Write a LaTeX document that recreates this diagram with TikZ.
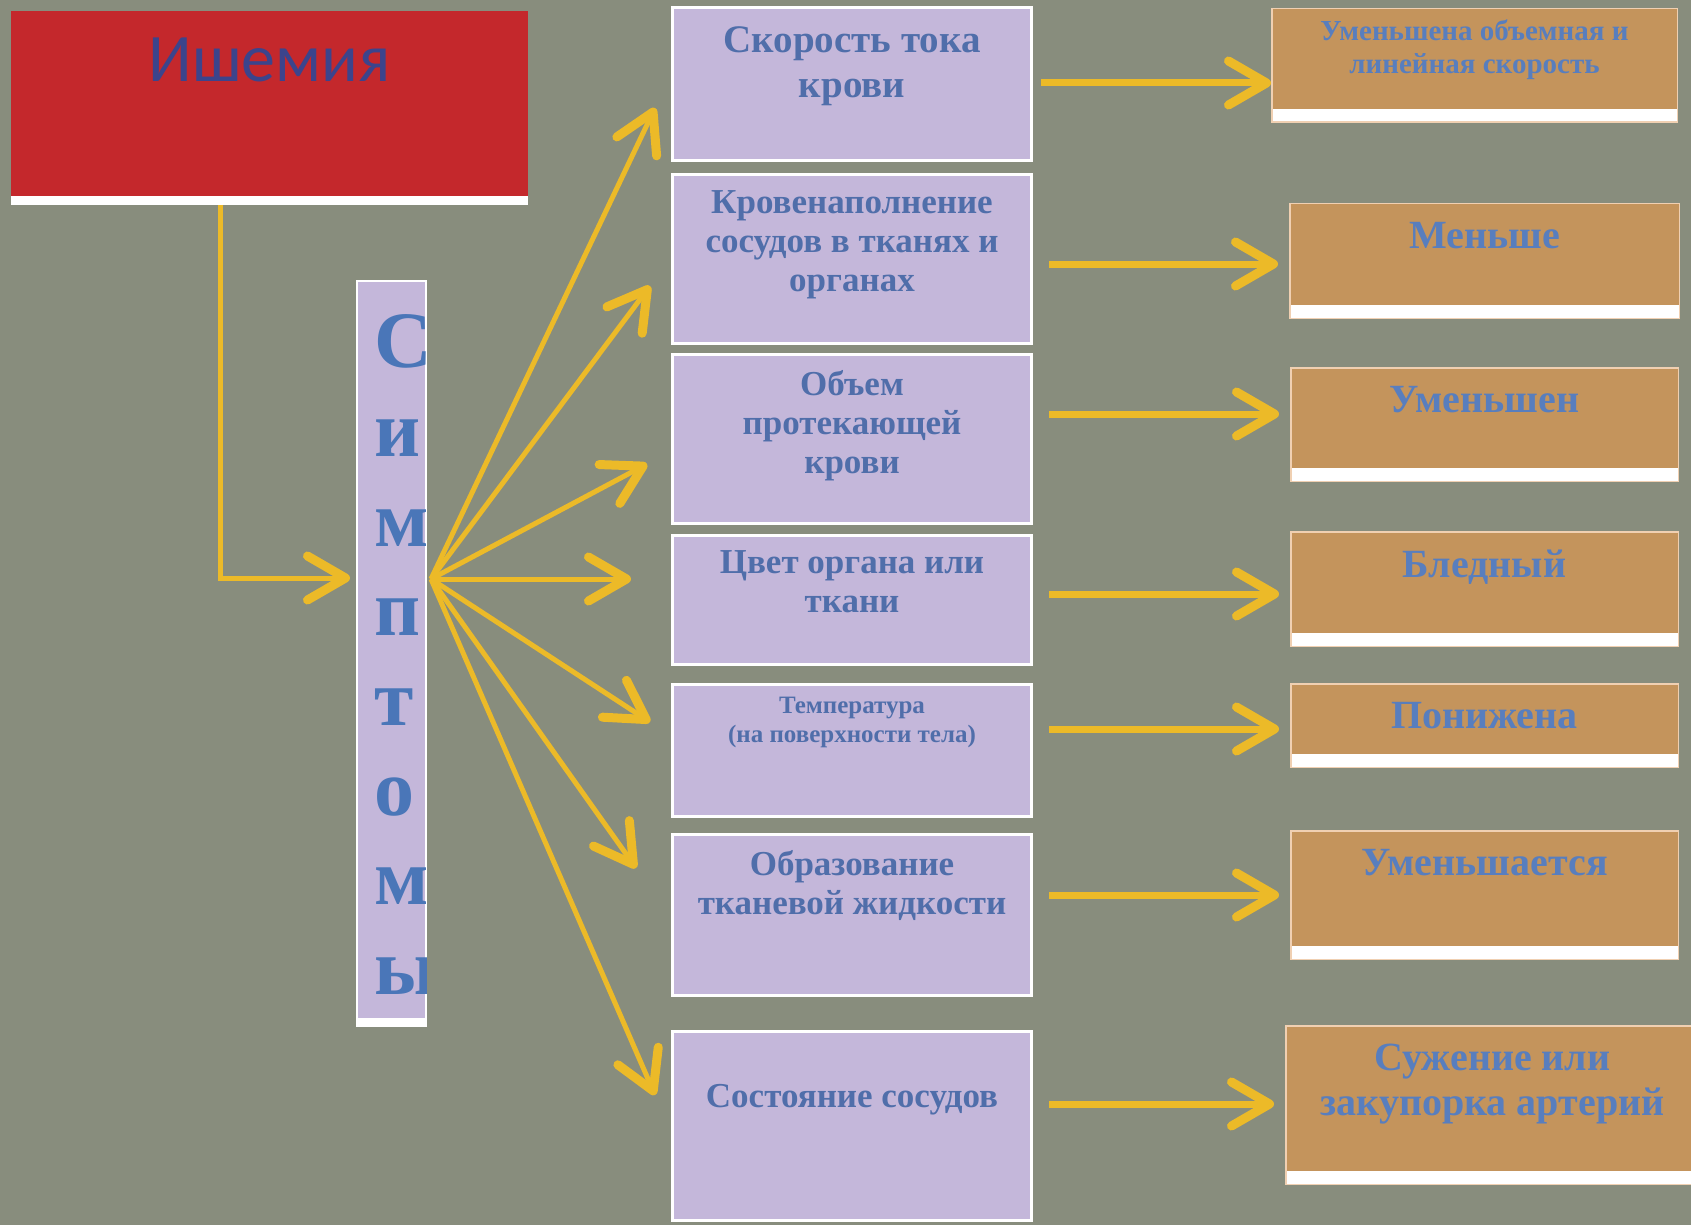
\documentclass[tikz,border=0pt]{standalone}
\usepackage{fontspec}
\setmainfont{Liberation Serif}
\newfontfamily\headfont{Carlito}
\usetikzlibrary{arrows.meta, positioning}

\definecolor{slate}{RGB}{136,141,125}
\definecolor{ischred}{RGB}{196,40,44}
\definecolor{lilac}{RGB}{196,183,218}
\definecolor{cork}{RGB}{196,148,92}
\definecolor{corkedge}{RGB}{240,208,178}
\definecolor{gold}{RGB}{236,186,40}
\definecolor{inkblue}{RGB}{80,110,170}
\definecolor{skyink}{RGB}{88,126,190}
\definecolor{navy}{RGB}{60,68,140}
\definecolor{symblue}{RGB}{74,118,184}

\tikzset{
  redbox/.style={fill=white, inner sep=0pt, minimum width=517pt, minimum height=194pt,
    path picture={\fill[ischred] (path picture bounding box.north west) rectangle ([yshift=9pt]path picture bounding box.south east);}},
  symbox/.style={draw=white, line width=2pt, fill=white, inner sep=0pt, minimum width=69pt, minimum height=745pt,
    path picture={\fill[lilac] (path picture bounding box.north west) rectangle ([yshift=8pt]path picture bounding box.south east);}},
  lilacbox/.style={draw=white, line width=3pt, fill=lilac, inner sep=0pt, minimum width=359pt},
  corkbox/.style={draw=corkedge, line width=1.5pt, fill=white, inner sep=0pt,
    path picture={\fill[cork] (path picture bounding box.north west) rectangle ([yshift=13pt]path picture bounding box.south east);}},
  headtxt/.style={text=navy, font=\headfont\fontsize{68}{70}\selectfont, inner sep=0pt, anchor=north},
  symch/.style={text=symblue, font=\bfseries\fontsize{80}{80}\selectfont, inner sep=0pt, anchor=base west},
  midtxt/.style={text=inkblue, font=\bfseries\fontsize{35}{39}\selectfont, align=center, inner sep=0pt, anchor=north},
  restxt/.style={text=skyink, font=\bfseries\fontsize{40}{45}\selectfont, align=center, inner sep=0pt, anchor=north},
  fan/.style={gold, line width=5pt, -{Straight Barb[length=38pt,width=44pt,line width=9pt,round]}},
  rarr/.style={gold, line width=7pt, shorten <=16pt, shorten >=11pt, -{Straight Barb[length=38pt,width=44pt,line width=9pt,round]}}
}

\begin{document}
\begin{tikzpicture}[x=1pt,y=-1pt]
  \fill[slate] (0,0) rectangle (1691,1225);
  \useasboundingbox (0,0) rectangle (1691,1225);

  % left column
  \node[redbox] (ish) at (269.5,108) {};
  \node[headtxt] (ttl) at ([yshift=-27pt]ish.north) {Ишемия};

  \node[symbox] (sym) at (391.5,653.5) {};
  \begin{scope}
    \clip ([xshift=-1pt,yshift=-1pt]sym.north east) rectangle ([xshift=1pt,yshift=9pt]sym.south west);
    \foreach \ch [count=\k from 0] in {С,и,м,п,т,о,м,ы}
      \node[symch] (s\k) at (374,{367+89.6*\k}) {\ch};
  \end{scope}

  % symptoms
  \node[lilacbox, minimum height=153pt] (m1) at (852,84) {};
  \node[lilacbox, minimum height=169pt] (m2) at (852,259) {};
  \node[lilacbox, minimum height=169pt] (m3) at (852,439) {};
  \node[lilacbox, minimum height=129pt] (m4) at (852,600) {};
  \node[lilacbox, minimum height=132pt] (m5) at (852,750.5) {};
  \node[lilacbox, minimum height=161pt] (m6) at (852,915) {};
  \node[lilacbox, minimum height=189pt] (m7) at (852,1126) {};

  \node[midtxt, font=\bfseries\fontsize{39}{45}\selectfont] (t1) at ([yshift=-20pt]m1.north) {Скорость тока\\крови};
  \node[midtxt] (t2) at ([yshift=-17pt]m2.north) {Кровенаполнение\\сосудов в тканях и\\органах};
  \node[midtxt] (t3) at ([yshift=-17pt]m3.north) {Объем\\протекающей\\крови};
  \node[midtxt] (t4) at ([yshift=-16pt]m4.north) {Цвет органа или\\ткани};
  \node[midtxt, font=\bfseries\fontsize{25}{29}\selectfont] (t5) at ([yshift=-14pt]m5.north) {Температура\\(на поверхности тела)};
  \node[midtxt] (t6) at ([yshift=-17pt]m6.north) {Образование\\тканевой жидкости};
  \node[midtxt] (t7) at ([yshift=-54pt]m7.north) {Состояние сосудов};

  % findings
  \node[corkbox, minimum width=405.5pt, minimum height=113.5pt] (r1) at (1474.5,65.5) {};
  \node[corkbox, minimum width=389.5pt, minimum height=114.5pt] (r2) at (1484.5,261) {};
  \node[corkbox, minimum width=387.5pt, minimum height=113.5pt] (r3) at (1484.5,424.5) {};
  \node[corkbox, minimum width=387.5pt, minimum height=114.5pt] (r4) at (1484.5,589) {};
  \node[corkbox, minimum width=387.5pt, minimum height=83.5pt] (r5) at (1484.5,725.5) {};
  \node[corkbox, minimum width=387.5pt, minimum height=128.5pt] (r6) at (1484.5,895) {};
  \node[corkbox, minimum width=413.5pt, minimum height=158.5pt] (r7) at (1492.5,1105) {};

  \node[restxt, font=\bfseries\fontsize{29}{33}\selectfont] (q1) at ([yshift=-12pt]r1.north) {Уменьшена объемная и\\линейная скорость};
  \node[restxt] (q2) at ([yshift=-19pt]r2.north) {Меньше};
  \node[restxt] (q3) at ([yshift=-19pt]r3.north) {Уменьшен};
  \node[restxt] (q4) at ([yshift=-19pt]r4.north) {Бледный};
  \node[restxt] (q5) at ([yshift=-19pt]r5.north) {Понижена};
  \node[restxt] (q6) at ([yshift=-19pt]r6.north) {Уменьшается};
  \node[restxt] (q7) at ([yshift=-19pt]r7.north) {Сужение или\\закупорка артерий};

  % arrows
  \coordinate (hub) at (431,579);
  \coordinate (sarr) at (350,578);
  \draw[fan] ([xshift=-49pt]ish.south) |- (sarr);

  \coordinate (f1) at (655,108);
  \coordinate (f2) at (650,286);
  \coordinate (f3) at (647,464);
  \coordinate (f4) at (631,579);
  \coordinate (f5) at (650,722);
  \coordinate (f6) at (636,868);
  \coordinate (f7) at (655,1095);
  \foreach \i in {1,...,7}
    \draw[fan] (hub) -- (f\i);

  \coordinate (a1) at (0,83);
  \coordinate (a2) at (0,264);
  \coordinate (a3) at (0,414);
  \coordinate (a4) at (0,594);
  \coordinate (a5) at (0,729);
  \coordinate (a6) at (0,895);
  \coordinate (a7) at (0,1104);
  \draw[rarr, shorten <=8pt, shorten >=0pt] (m1.east |- a1) -- (r1.west |- a1);
  \foreach \i in {2,...,7}
    \draw[rarr] (m\i.east |- a\i) -- (r\i.west |- a\i);
\end{tikzpicture}
\end{document}
